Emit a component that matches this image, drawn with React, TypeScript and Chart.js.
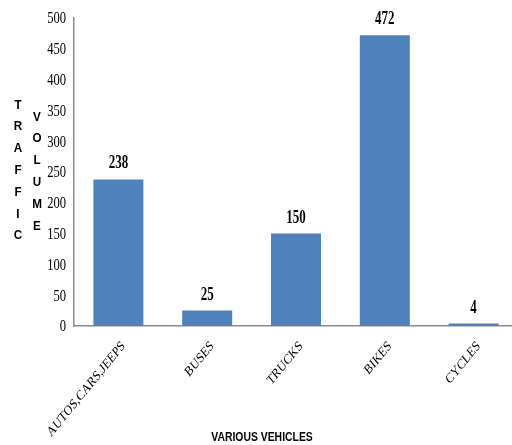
import React, { useEffect, useRef } from "react";
import { Chart, registerables } from "chart.js";

Chart.register(...registerables);

const categories = ["AUTOS,CARS,JEEPS", "BUSES", "TRUCKS", "BIKES", "CYCLES"];
const trafficVolume = [238, 25, 150, 472, 4];
const yTickValues = [0, 50, 100, 150, 200, 250, 300, 350, 400, 450, 500];
const yTitleLeft = ["T", "R", "A", "F", "F", "I", "C"];
const yTitleRight = ["V", "O", "L", "U", "M", "E"];
const xTitle = "VARIOUS VEHICLES";

const SERIF = "'Liberation Serif', 'Times New Roman', serif";
const SANS = "'Liberation Sans', Arial, sans-serif";

function drawText(
  ctx: CanvasRenderingContext2D,
  text: string,
  x: number,
  y: number,
  font: string,
  sx: number,
  align: CanvasTextAlign,
  baseline: CanvasTextBaseline,
  rot = 0
) {
  ctx.save();
  ctx.translate(x, y);
  ctx.scale(sx, 1);
  ctx.rotate(rot);
  ctx.font = font;
  ctx.fillStyle = "#000";
  ctx.textAlign = align;
  ctx.textBaseline = baseline;
  ctx.fillText(text, 0, 0);
  ctx.restore();
}

// Narrow-set labels, value tags and stacked axis titles
const textPlugin = {
  id: "textLayer",
  afterDraw(chart: any) {
    const ctx = chart.ctx as CanvasRenderingContext2D;
    const { x, y } = chart.scales;
    const area = chart.chartArea;

    yTickValues.forEach((v) => {
      drawText(ctx, String(v), area.left - 8, y.getPixelForValue(v) + 1, `17px ${SERIF}`, 0.74, "right", "middle");
    });

    categories.forEach((c, i) => {
      const px = x.getPixelForTick(i);
      drawText(ctx, c, px + 1, area.bottom + 13, `14px ${SERIF}`, 0.82, "right", "top", -Math.PI / 4);
    });

    const meta = chart.getDatasetMeta(0);
    meta.data.forEach((bar: any, i: number) => {
      drawText(ctx, String(trafficVolume[i]), bar.x, bar.y - 11, `bold 18px ${SERIF}`, 0.72, "center", "alphabetic");
    });

    yTitleLeft.forEach((ch, i) => {
      drawText(ctx, ch, 18, 105 + i * 21.8, `bold 13px ${SANS}`, 0.9, "center", "middle");
    });
    yTitleRight.forEach((ch, i) => {
      drawText(ctx, ch, 37, 117 + i * 21.8, `bold 13px ${SANS}`, 0.9, "center", "middle");
    });

    drawText(ctx, xTitle, 262, 437, `bold 13px ${SANS}`, 0.8, "center", "middle");
  },
};

export default function App() {
  const canvasRef = useRef<HTMLCanvasElement | null>(null);

  useEffect(() => {
    if (!canvasRef.current) return;
    const chart = new Chart(canvasRef.current, {
      type: "bar",
      data: {
        labels: categories,
        datasets: [
          {
            label: "Traffic volume",
            data: trafficVolume,
            backgroundColor: "#4F81BD",
            borderWidth: 0,
            categoryPercentage: 1,
            barPercentage: 0.563,
          },
        ],
      },
      options: {
        animation: false,
        responsive: false,
        maintainAspectRatio: false,
        layout: { padding: { left: 74, top: 18, right: 2, bottom: 119 } },
        plugins: {
          legend: { display: false },
          tooltip: { enabled: false },
          title: { display: false },
        },
        scales: {
          x: {
            offset: true,
            grid: { display: false, drawTicks: false },
            border: { display: true, color: "#8a8a8a", width: 1.5 },
            ticks: { display: false },
          },
          y: {
            min: 0,
            max: 500,
            grid: { display: false, drawTicks: false },
            border: { display: true, color: "#8a8a8a", width: 1.5 },
            ticks: { display: false, stepSize: 50 },
          },
        },
      },
      plugins: [textPlugin],
    });
    return () => chart.destroy();
  }, []);

  return (
    <div style={{ position: "absolute", left: 0, top: 0, width: 512, height: 445, overflow: "hidden", background: "#fff" }}>
      <canvas ref={canvasRef} width={520} height={445} style={{ display: "block", width: 520, height: 445 }} />
    </div>
  );
}
